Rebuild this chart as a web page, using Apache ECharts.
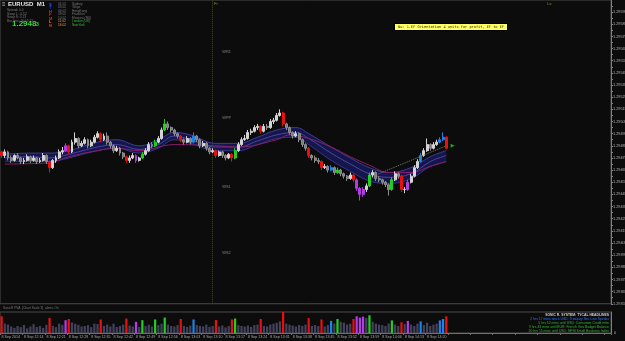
<!DOCTYPE html>
<html><head><meta charset="utf-8">
<script src="https://cdn.jsdelivr.net/npm/echarts@6/dist/echarts.min.js"></script>
<style>html,body{margin:0;padding:0;background:#0c0c0c;}#c{width:625px;height:341px;}</style>
</head><body><div id="c"></div>
<script>
// prices in points (0.00001)
const openPts = [129480,129477,129480,129475,129473,129477,129475,129472,129473,129476,
129473,129475,129472,129473,129477,129472,129467,129473,129475,129480,
129481,129485,129480,129488,129491,129485,129487,129490,129485,129488,
129492,129495,129490,129493,129488,129485,129481,129483,129479,129476,
129473,129475,129477,129473,129475,129478,129481,129486,129485,129488,
129491,129498,129503,129500,129498,129495,129493,129490,129488,129491,
129488,129493,129490,129485,129487,129483,129480,129481,129477,129480,
129477,129475,129478,129475,129481,129486,129490,129491,129496,129497,
129500,129501,129497,129501,129500,129505,129506,129510,129512,129503,
129500,129496,129493,129495,129490,129486,129483,129477,129475,129473,
129472,129467,129468,129465,129467,129463,129465,129462,129460,129458,
129461,129457,129450,129445,129449,129452,129461,129463,129458,129457,
129455,129453,129449,129457,129462,129460,129449,129449,129455,129460,
129467,129472,129477,129481,129486,129483,129486,129488,129490,129492];
const closePts = [129477,129480,129475,129473,129477,129475,129472,129473,129476,129473,
129475,129472,129473,129477,129472,129467,129473,129475,129480,129481,
129485,129480,129488,129491,129485,129487,129490,129485,129488,129492,
129495,129490,129493,129488,129485,129481,129483,129479,129476,129473,
129475,129477,129473,129475,129478,129481,129486,129485,129488,129491,
129498,129503,129500,129498,129495,129493,129490,129488,129491,129488,
129493,129490,129485,129487,129483,129480,129481,129477,129480,129477,
129475,129478,129475,129481,129486,129490,129491,129496,129497,129500,
129501,129497,129501,129500,129505,129506,129510,129512,129503,129500,
129496,129493,129495,129490,129486,129483,129477,129475,129473,129472,
129467,129468,129465,129467,129463,129465,129462,129460,129458,129461,
129457,129450,129445,129449,129452,129461,129463,129458,129457,129455,
129453,129449,129457,129462,129460,129449,129449,129455,129460,129467,
129472,129477,129481,129486,129483,129486,129488,129490,129492,129483];
const highPts = [129481,129482,129481,129477,129478,129479,129476,129475,129478,129477,
129477,129476,129475,129479,129478,129473,129474,129477,129482,129484,
129487,129486,129490,129496,129492,129489,129492,129491,129490,129494,
129497,129496,129495,129496,129489,129486,129485,129484,129480,129477,
129477,129479,129478,129476,129480,129483,129488,129488,129490,129493,
129500,129507,129505,129501,129499,129496,129494,129491,129493,129492,
129496,129494,129491,129489,129488,129484,129483,129482,129481,129481,
129478,129479,129479,129483,129488,129492,129494,129498,129499,129502,
129503,129502,129503,129503,129507,129508,129512,129515,129513,129504,
129501,129497,129497,129496,129491,129487,129484,129478,129477,129475,
129473,129470,129469,129469,129468,129467,129466,129463,129461,129463,
129462,129458,129451,129451,129454,129463,129465,129464,129460,129458,
129456,129454,129459,129464,129463,129461,129451,129457,129462,129469,
129474,129479,129483,129491,129487,129488,129490,129492,129496,129493];
const lowPts = [129475,129475,129473,129471,129472,129474,129470,129470,129472,129471,
129472,129470,129471,129472,129470,129463,129466,129471,129474,129478,
129480,129478,129479,129486,129483,129484,129486,129483,129484,129487,
129491,129488,129489,129486,129483,129479,129480,129477,129474,129471,
129471,129474,129471,129472,129474,129477,129480,129483,129484,129487,
129490,129497,129498,129496,129493,129491,129488,129486,129487,129486,
129487,129488,129483,129484,129481,129478,129479,129475,129476,129475,
129473,129474,129472,129474,129480,129485,129489,129490,129494,129496,
129498,129495,129496,129498,129499,129503,129505,129509,129501,129498,
129494,129491,129492,129488,129484,129481,129475,129473,129471,129470,
129465,129466,129463,129464,129461,129462,129460,129458,129456,129457,
129455,129448,129440,129443,129447,129451,129459,129456,129455,129453,
129451,129444,129448,129456,129458,129447,129446,129448,129454,129459,
129466,129471,129476,129480,129481,129482,129485,129487,129489,129482];
// tick volume
const volumes = [72,40,36,28,22,30,25,34,20,28,
38,26,30,22,35,65,30,25,40,35,
55,60,45,40,35,28,30,34,25,40,
38,58,30,36,28,40,26,30,36,62,
32,28,48,26,55,30,36,28,58,34,
40,66,36,30,28,34,60,30,26,32,
58,34,30,28,36,26,30,56,28,32,
24,30,58,62,34,30,28,32,26,34,
36,60,30,28,36,40,44,50,92,40,
36,32,28,34,30,36,64,30,34,30,
58,28,34,52,40,60,48,44,36,40,
60,72,66,70,64,76,48,40,36,34,
30,40,54,36,30,46,38,52,36,30,
40,50,34,44,30,36,40,54,60,72];
// PVA class of bars: R climax bear, G climax bull, B rising bull, M rising bear
const pvaBars = {0:'R',15:'R',20:'M',21:'R',31:'R',39:'R',42:'M',44:'G',48:'G',51:'G',56:'R',60:'B',67:'R',72:'R',73:'G',81:'R',88:'R',96:'R',100:'R',103:'B',105:'G',110:'R',111:'M',112:'M',113:'M',115:'G',122:'G',125:'R',127:'M',131:'B',137:'B',138:'B',139:'R'};
// Dragon (EMA34 high / close / low) read at sample bars
const dragonBars = [1,9,15,21,30,36,43,49,54,59,67,74,80,86,92,96,103,109,115,121,128,134,139];
const dragonHigh = [129478,129479,129479,129481,129488,129490,129485,129490,129496,129494,129487,129487,129492,129498,129500,129495,129484,129475,129467,129463,129467,129476,129481];
const dragonMid  = [129475,129476,129475,129478,129484,129486,129482,129486,129493,129490,129484,129484,129489,129494,129496,129491,129479,129470,129462,129459,129462,129472,129477];
const dragonLow  = [129472,129472,129472,129475,129481,129483,129479,129483,129490,129487,129481,129481,129486,129491,129492,129486,129473,129464,129456,129454,129458,129468,129472];
// EMA89 read at sample bars
const emaBars = [1,15,21,30,36,43,54,67,74,86,90,96,103,109,115,121,128,134,139];
const emaVals = [129470,129471,129476,129481,129483,129481,129486,129485,129484,129490,129494,129491,129484,129476,129469,129463,129463,129468,129472];
// Pivot levels
const pivotNames = ['WR1','WPP','WS1','WS2'];
const pivotPts = [129562,129508,129451,129397];
const extraLevels = [129574,129491,129407];
const currentPrice = 129483;
const signalBars = [117,139];
const signalPts = [129461,129485];
const timeLabels = ["8 Sep 2014","8 Sep 12:14","8 Sep 12:21","8 Sep 12:28","8 Sep 12:35","8 Sep 12:42","8 Sep 12:49","8 Sep 12:56","8 Sep 13:03","8 Sep 13:10","8 Sep 13:17","8 Sep 13:24","8 Sep 13:31","8 Sep 13:38","8 Sep 13:45","8 Sep 13:52","8 Sep 13:59","8 Sep 14:06","8 Sep 14:13","8 Sep 14:20"];
const LABEL_EVERY = 7;
const SEPARATOR_BAR = 66;
const headlines = ["SONIC R. SYSTEM: TYCAL HEADLINES","2 hrs 17 mins since USD: Treasury Sec Lew Speaks","5 hrs 52 mins until USD: Consumer Credit m/m","9 hrs 43 mins until EUR: French Gov Budget Balance","20 hrs 15 mins until USD: NFIB Small Business Index"];
const sessions = [["S","01:02","Sydney"],["T","03:02","Tokyo"],["H","04:02","HongKong"],["F","09:02","Frankfurt"],["M","10:02","Moscow (RU)"],["L","11:02","London (UK)"],["N","16:02","NewYork"]];

const N = 191;
const P = v => v / 1e5;
const cats = Array.from({length: N}, (_, i) => String(i));
const PVA = {R:'#e81010', G:'#22d022', B:'#1e82e6', M:'#b43ce6'};

const candleData = openPts.map((o, i) => {
  const it = {value: [P(o), P(closePts[i]), P(lowPts[i]), P(highPts[i])]};
  const c = pvaBars[i];
  if (c) it.itemStyle = {color: PVA[c], color0: PVA[c], borderColor: PVA[c], borderColor0: PVA[c]};
  return it;
});
const volData = volumes.map((v, i) => ({value: v, itemStyle: {color: pvaBars[i] ? PVA[pvaBars[i]] : '#42425c'}}));

const pivotStyles = [
  {color:'#6e6e18', type:'dotted'}, {color:'#a8a81c', type:'solid'},
  {color:'#6e6e18', type:'dotted'}, {color:'#34349e', type:'dotted'}];
const extraStyles = [{color:'#333333'},{color:'#1c361c'},{color:'#1c361c'}];

const markLines = [];
pivotPts.forEach((p, k) => markLines.push({yAxis: P(p), lineStyle: Object.assign({width:1}, pivotStyles[k]), label:{show:false}}));
extraLevels.forEach((p, k) => markLines.push({yAxis: P(p), lineStyle: Object.assign({width:1, type:'solid'}, extraStyles[k]), label:{show:false}}));
markLines.push({xAxis: SEPARATOR_BAR, lineStyle:{color:'#4a4a10', type:'dotted', width:1}, label:{show:false}});
markLines.push({yAxis: P(currentPrice), lineStyle:{color:'#666666', type:'solid', width:1},
  label:{show:true, position:'end', distance:1, formatter: (currentPrice/1e5).toFixed(5), color:'#000', backgroundColor:'#b8b8b8', fontSize:3.8, padding:[1,1], fontFamily:'Liberation Sans'}});

const font = 'Liberation Sans';
const g = [];
const txt = (x, y, s, fill, f, extra) => g.push({type:'text', left:x, top:y, silent:true, style:Object.assign({text:s, fill:fill, font:f}, extra||{})});
// header panel
txt(2, 1, '≡', '#bbbbbb', '6px ' + font);
txt(8, 1, 'EURUSD  M1', '#e8e8e8', 'bold 6px ' + font);
txt(7, 9, 'Spread: 0.0', '#7a7a7a', '3.2px ' + font);
txt(7, 12.5, 'Swap L: -0.52', '#7a7a7a', '3.2px ' + font);
txt(7, 16, 'Swap S: 0.13', '#7a7a7a', '3.2px ' + font);
txt(7, 19.5, 'Bar time: 00:15:22', '#7a7a7a', '3.2px ' + font);
txt(12, 20, '1.2948', '#3cd23c', 'bold 8px ' + font);
txt(36, 22.5, '3', '#3cd23c', 'bold 5px ' + font);
const letterCol = ['#3050ff','#2840c8','#3c5aff','#e02020','#c82828','#ff8c00','#ff3030'];
sessions.forEach((s, k) => {
  const y = 2.5 + k * 3.5;
  txt(49, y, s[0], letterCol[k], 'bold 4px ' + font);
  txt(58, y, s[1], k >= 5 ? '#ff9a20' : '#7a7a7a', '3.2px ' + font);
  txt(72, y, s[2], k >= 5 ? '#30c030' : '#7a7a7a', '3.2px ' + font);
});
// note box
txt(394, 23, 'Nu: 1.EF Orientation 4 units for profit, EF to EF', '#2a2a00', '3.6px DejaVu Sans Mono', {backgroundColor:'#ffff6a', borderColor:'#000', borderWidth:1, padding:[1,3]});
// top markers
txt(214, 2, 'Fr', '#8c8c20', '4px ' + font);
txt(547, 2, 'Lo', '#8c8c20', '4px ' + font);
// volume window label
txt(3, 307, 'SonicR PVA  [Chart Scale 3]  alerts: On', '#7a7a7a', '3.2px ' + font);
// headlines
const hlCol = ['#d0d0d0','#2f74ff','#2fb82f','#2fb82f','#2fb82f'];
headlines.forEach((h, k) => g.push({type:'text', right:16, top:314 + k * 3.8, silent:true, style:{text:h, fill:hlCol[k], font:(k===0?'bold ':'') + '3.4px ' + font}}));

const option = {
  backgroundColor: '#0c0c0c',
  animation: false,
  grid: [
    {left:0, right:14, top:0, height:303.75, show:true, borderColor:'#4a4a4a', borderWidth:1, containLabel:false, outerBoundsMode:'none'},
    {left:0, right:14, top:312, height:21, show:true, borderColor:'#4a4a4a', borderWidth:1, containLabel:false, outerBoundsMode:'none'}
  ],
  xAxis: [
    {type:'category', gridIndex:0, data:cats, boundaryGap:true, axisLine:{show:false}, axisTick:{show:false}, axisLabel:{show:false}, splitLine:{show:false}},
    {type:'category', gridIndex:1, data:cats, boundaryGap:true,
      axisLine:{show:true, lineStyle:{color:'#707070'}},
      axisTick:{show:true, interval:LABEL_EVERY-1, length:2, lineStyle:{color:'#707070'}},
      axisLabel:{show:true, interval:LABEL_EVERY-1, align:'left', margin:2, fontSize:3.6, color:'#a8a8a8', fontFamily:font, overflow:'none',
        formatter:(v, i) => (i % LABEL_EVERY === 0 && timeLabels[i / LABEL_EVERY]) ? timeLabels[i / LABEL_EVERY] : ''},
      splitLine:{show:false}}
  ],
  yAxis: [
    {type:'value', gridIndex:0, position:'right', min:1.29355, max:1.29605, interval:0.00005,
      axisLine:{show:true, lineStyle:{color:'#808080'}}, axisTick:{show:true, length:2, lineStyle:{color:'#808080'}},
      splitLine:{show:false},
      axisLabel:{show:true, margin:2, fontSize:3.8, color:'#b4b4b4', fontFamily:font, overflow:'none', showMinLabel:true, showMaxLabel:false, hideOverlap:false,
        formatter:v => (Math.round(v * 1e5) % 10 === 5 ? v.toFixed(5) : '')}},
    {type:'value', gridIndex:1, position:'right', min:0, max:90, interval:90,
      axisLine:{show:true, lineStyle:{color:'#808080'}}, axisTick:{show:false}, splitLine:{show:false},
      axisLabel:{show:true, margin:3, fontSize:3.8, color:'#b4b4b4', formatter:v => v === 0 ? '0' : ''}}
  ],
  series: [
    {type:'line', name:'dragonLow', xAxisIndex:0, yAxisIndex:0, stack:'dragon', smooth:0.4, symbol:'none',
      data: dragonBars.map((b, k) => [b, P(dragonLow[k])]), lineStyle:{color:'#34348a', width:1}, z:2},
    {type:'line', name:'dragonHigh', xAxisIndex:0, yAxisIndex:0, stack:'dragon', smooth:0.4, symbol:'none',
      data: dragonBars.map((b, k) => [b, P(dragonHigh[k] - dragonLow[k])]), lineStyle:{color:'#3c3c9a', width:1},
      areaStyle:{color:'#161850', opacity:0.95}, z:2},
    {type:'line', name:'dragonMid', xAxisIndex:0, yAxisIndex:0, smooth:0.4, symbol:'none',
      data: dragonBars.map((b, k) => [b, P(dragonMid[k])]), lineStyle:{color:'#4a449e', width:1}, z:3},
    {type:'line', name:'ema89', xAxisIndex:0, yAxisIndex:0, smooth:0.4, symbol:'none',
      data: emaBars.map((b, k) => [b, P(emaVals[k])]), lineStyle:{color:'#8a1c6a', width:1}, z:3},
    {type:'candlestick', name:'EURUSD', xAxisIndex:0, yAxisIndex:0, barWidth:2.4, data:candleData, z:5,
      itemStyle:{color:'#d4d4d4', color0:'#7a7a7a', borderColor:'#d4d4d4', borderColor0:'#8e8e8e', borderWidth:1},
      markLine:{silent:true, symbol:['none','none'], animation:false, data:markLines}},
    {type:'line', name:'signal', xAxisIndex:0, yAxisIndex:0, symbol:'circle', symbolSize:5,
      data: signalBars.map((b, k) => [b, P(signalPts[k])]),
      lineStyle:{color:'#7a7a7a', type:'dotted', width:1},
      itemStyle:{color:'#1e78ff', borderColor:'#ffffff', borderWidth:1.5}, z:8},
    {type:'scatter', name:'arrow', xAxisIndex:0, yAxisIndex:0, symbol:'triangle', symbolRotate:-90, symbolSize:4,
      data:[[signalBars[1] + 2, P(signalPts[1])]], itemStyle:{color:'#20d020'}, z:8},
    {type:'scatter', name:'pivotLabels', xAxisIndex:0, yAxisIndex:0, symbolSize:0,
      data: pivotPts.map((p, k) => [69, P(p), pivotNames[k]]),
      label:{show:true, position:'right', distance:0, formatter:p => p.data[2], color:'#a0a0a0', fontSize:3.8, fontFamily:font}, z:9},
    {type:'bar', name:'volume', xAxisIndex:1, yAxisIndex:1, barWidth:2.2, data:volData}
  ],
  graphic: g
};
const chart = echarts.init(document.getElementById('c'));
chart.setOption(option);
</script></body></html>
